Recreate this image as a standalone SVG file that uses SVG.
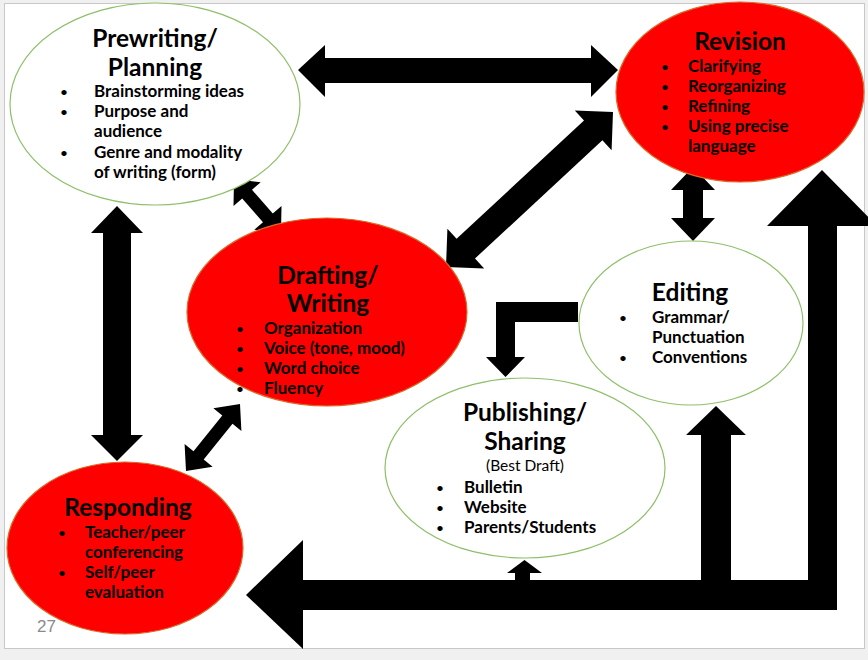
<svg xmlns="http://www.w3.org/2000/svg" width="868" height="660" viewBox="0 0 868 660">
<style>
.bg{fill:#f0f0f0}
.slide{fill:#ffffff;stroke:#c8c8c8;stroke-width:1}
.wn{fill:#ffffff;stroke:#8fbf6a;stroke-width:1.2}
.rn{fill:#ff0000;stroke:#d86a2a;stroke-width:1.2}
.ar{fill:#000000}
text{font-family:Lato,"Liberation Sans",sans-serif;fill:#000000}
.t{font-size:24.5px;font-weight:bold;text-anchor:middle}
.b{font-size:17px;font-weight:bold}
.d{font-size:12px;font-weight:bold;text-anchor:middle}
.s{font-size:15.5px;text-anchor:middle}
.pg{font-family:"Liberation Sans Narrow","Liberation Sans",sans-serif;font-size:17px;fill:#8a8a8a}
</style>
<rect class="bg" x="0" y="0" width="868" height="660"/>
<rect class="slide" x="4.5" y="3.5" width="860" height="645"/>

<g id="connectors">
<polygon class="ar" points="298,70 325,45 325,58 591,58 591,45 618,70 591,97 591,83 325,83 325,97"/>
<polygon class="ar" points="446,267 484.2,268.4 475,258.5 602.4,140.3 611.6,150.2 613,112 574.8,110.6 584,120.5 456.6,238.7 447.4,228.8"/>
<polygon class="ar" points="234,179 260.7,182.3 252,189.8 272.8,213.6 281.5,206.1 281,233 254.3,229.7 263,222.2 242.2,198.4 233.5,205.9"/>
<polygon class="ar" points="117,206 143,233 131,233 131,435 143,435 117,461 91,435 103,435 103,233 91,233"/>
<polygon class="ar" points="186,471 212.6,466.7 203.7,459.5 232.5,423.7 241.4,430.9 240,404 213.4,408.3 222.3,415.5 193.5,451.3 184.6,444.1"/>
<polygon class="ar" points="693,167 715,190 703,190 703,218 715,218 693,241 671,218 683,218 683,190 671,190"/>
<polygon class="ar" points="578,302 496,302 496,357 486,357 505.5,377 525,357 515,357 515,322 578,322"/>
<polygon class="ar" points="246,595 303,540 303,580 515,580 515,573 507,573 524.5,560 542,573 530,573 530,580 701,580 701,435 686,435 716,406 746,435 731,435 731,580 808,580 808,226 767,226 822,170 877,226 837,226 837,610 303,610 303,649"/>
</g>

<g id="prewriting">
<ellipse class="wn" cx="155" cy="104" rx="145" ry="101"/>
<text class="t" x="155" y="47">Prewriting/</text>
<text class="t" x="155" y="76">Planning</text>
<text class="d" x="64" y="96">•</text><text class="b" x="94" y="97">Brainstorming ideas</text>
<text class="d" x="64" y="116">•</text><text class="b" x="94" y="117">Purpose and</text>
<text class="b" x="94" y="137">audience</text>
<text class="d" x="64" y="157">•</text><text class="b" x="94" y="158">Genre and modality</text>
<text class="b" x="94" y="178">of writing (form)</text>
</g>

<g id="revision">
<ellipse class="rn" cx="740" cy="92" rx="124" ry="90"/>
<text class="t" x="740" y="50">Revision</text>
<text class="d" x="665" y="71">•</text><text class="b" x="688" y="72">Clarifying</text>
<text class="d" x="665" y="91">•</text><text class="b" x="688" y="92">Reorganizing</text>
<text class="d" x="665" y="111">•</text><text class="b" x="688" y="112">Refining</text>
<text class="d" x="665" y="131">•</text><text class="b" x="688" y="132">Using precise</text>
<text class="b" x="688" y="152">language</text>
</g>

<g id="drafting">
<ellipse class="rn" cx="327" cy="312" rx="140" ry="94"/>
<text class="t" x="328" y="284">Drafting/</text>
<text class="t" x="328" y="312">Writing</text>
<text class="d" x="240" y="333">•</text><text class="b" x="264" y="334">Organization</text>
<text class="d" x="240" y="353">•</text><text class="b" x="264" y="354">Voice (tone, mood)</text>
<text class="d" x="240" y="373">•</text><text class="b" x="264" y="374">Word choice</text>
<text class="d" x="240" y="393">•</text><text class="b" x="264" y="394">Fluency</text>
</g>

<g id="editing">
<ellipse class="wn" cx="691" cy="323" rx="112" ry="82"/>
<text class="t" x="690" y="301">Editing</text>
<text class="d" x="623" y="322">•</text><text class="b" x="652" y="323">Grammar/</text>
<text class="b" x="652" y="343">Punctuation</text>
<text class="d" x="623" y="362">•</text><text class="b" x="652" y="363">Conventions</text>
</g>

<g id="publishing">
<ellipse class="wn" cx="525" cy="468" rx="140" ry="90"/>
<text class="t" x="525" y="421">Publishing/</text>
<text class="t" x="525" y="450">Sharing</text>
<text class="s" x="525" y="471">(Best Draft)</text>
<text class="d" x="440" y="492">•</text><text class="b" x="464" y="493">Bulletin</text>
<text class="d" x="440" y="512">•</text><text class="b" x="464" y="513">Website</text>
<text class="d" x="440" y="532">•</text><text class="b" x="464" y="533">Parents/Students</text>
</g>

<g id="responding">
<ellipse class="rn" cx="125" cy="548" rx="118" ry="86"/>
<text class="t" x="128" y="516">Responding</text>
<text class="d" x="62" y="537">•</text><text class="b" x="85" y="538">Teacher/peer</text>
<text class="b" x="85" y="558">conferencing</text>
<text class="d" x="62" y="577">•</text><text class="b" x="85" y="578">Self/peer</text>
<text class="b" x="85" y="598">evaluation</text>
</g>

<text class="pg" x="37" y="632">27</text>
</svg>
